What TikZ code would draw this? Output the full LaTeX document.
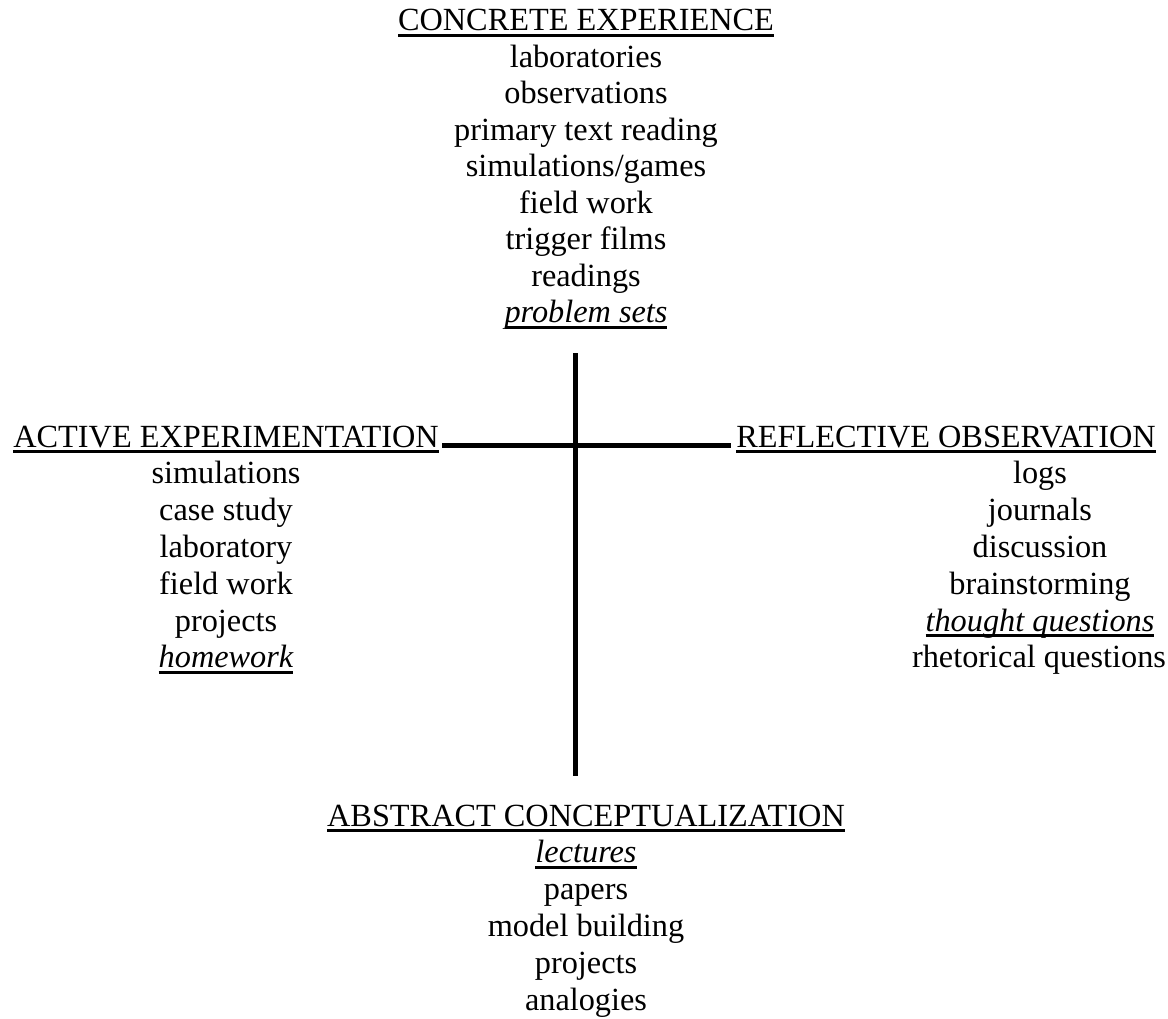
\documentclass[tikz,border=0pt]{standalone}
\usepackage{fontspec}
\setmainfont{Liberation Serif}
\newcommand\myul[1]{\setbox0\hbox{#1}\rlap{\rule[-5.8pt]{\wd0}{2.6pt}}\box0}
\begin{document}
\begin{tikzpicture}[x=1pt,y=-1pt,
  txt/.style={inner sep=0pt, anchor=base, font=\fontsize{32.3}{36}\selectfont},
  axis/.style={line width=5pt}]
\useasboundingbox (0,0) rectangle (1168,1019);
% axes
\coordinate (vtop) at (575.5,353);
\coordinate (vbot) at (575.5,776);
\coordinate (hleft) at (442,445.3);
\coordinate (hright) at (731,445.3);
\draw[axis] (vtop) -- (vbot);
\draw[axis] (hleft) -- (hright);
% concrete experience
\node[txt] (ceh) at (586,31) {\myul{CONCRETE EXPERIENCE}};
\node[txt] (ce1) at (586,67.5) {laboratories};
\node[txt] (ce2) at (586,104) {observations};
\node[txt] (ce3) at (586,140.5) {primary text reading};
\node[txt] (ce4) at (586,177) {simulations/games};
\node[txt] (ce5) at (586,213.5) {field work};
\node[txt] (ce6) at (586,250) {trigger films};
\node[txt] (ce7) at (586,286.5) {readings};
\node[txt] (ce8) at (586,323) {\myul{\itshape problem sets}};
% active experimentation
\node[txt] (aeh) at (226,447) {\myul{ACTIVE EXPERIMENTATION}};
\node[txt] (ae1) at (226,483.8) {simulations};
\node[txt] (ae2) at (226,520.6) {case study};
\node[txt] (ae3) at (226,557.4) {laboratory};
\node[txt] (ae4) at (226,594.2) {field work};
\node[txt] (ae5) at (226,631) {projects};
\node[txt] (ae6) at (226,667.8) {\myul{\itshape homework}};
% reflective observation
\node[txt] (roh) at (946,447) {\myul{REFLECTIVE OBSERVATION}};
\node[txt] (ro1) at (1040,483.8) {logs};
\node[txt] (ro2) at (1040,520.6) {journals};
\node[txt] (ro3) at (1040,557.4) {discussion};
\node[txt] (ro4) at (1040,594.2) {brainstorming};
\node[txt] (ro5) at (1040,631) {\myul{\itshape thought questions}};
\node[txt] (ro6) at (1039,667.8) {rhetorical questions};
% abstract conceptualization
\node[txt] (ach) at (586,826) {\myul{ABSTRACT CONCEPTUALIZATION}};
\node[txt] (ac1) at (586,862.8) {\myul{\itshape lectures}};
\node[txt] (ac2) at (586,899.6) {papers};
\node[txt] (ac3) at (586,936.4) {model building};
\node[txt] (ac4) at (586,973.2) {projects};
\node[txt] (ac5) at (586,1010) {analogies};
\end{tikzpicture}
\end{document}
